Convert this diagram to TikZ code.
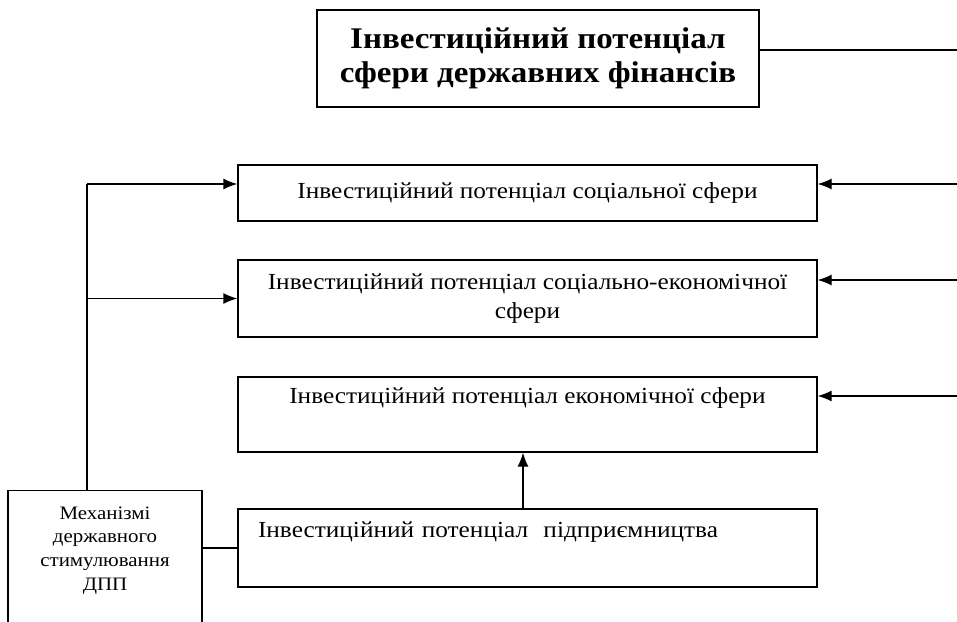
\documentclass[tikz,border=0pt]{standalone}
\usepackage{fontspec}
\setmainfont{Liberation Serif}[FakeStretch=1.1]
\usepackage{tikz}
\usetikzlibrary{positioning}
\usetikzlibrary{arrows.meta}
\tikzstyle{line} = [draw, line width=1.3pt, -{Latex[length=14pt,width=11pt]}]
\tikzstyle{box} = [draw, line width=1.3pt, rectangle, inner sep=0pt, minimum width=579pt, align=center]

\begin{document}
\begin{tikzpicture}[x=1pt, y=-1pt, font=\fontsize{23}{29}\selectfont]

\useasboundingbox (0,0) rectangle (957,621);

\def\r{957}
\def\c{527.5}

\node[draw, line width=1.3pt, minimum width=442pt, minimum height=97pt, inner sep=0pt,
      align=center, font=\fontsize{30}{34}\selectfont\bfseries] (fin) at (538,58.5)
      {Інвестиційний потенціал\\сфери державних фінансів};

\node[box, minimum height=56pt] (soc) at (\c,193) {Інвестиційний потенціал соціальної сфери};
\node[box, minimum height=77pt] (soceco) at (\c,298.5) {Інвестиційний потенціал соціально-економічної\\сфери};
\node[box, minimum height=75pt] (eco) at (\c,414.5) {Інвестиційний потенціал економічної сфери\\ \strut};
\node[box, minimum height=78pt, align=left, text width=539pt, inner xsep=20pt] (ent) at (\c,548)
      {Інвестиційний потенціал~ підприємництва\\ \strut};

\node[draw, line width=1.3pt, anchor=north, minimum width=194pt, inner ysep=16pt, text depth=130pt,
      align=center, font=\fontsize{19}{23.7}\selectfont] (mech) at (105,490)
      {Механізмі\\державного\\стимулювання\\ДПП};

% right side
\coordinate (e0) at (\r,50);
\coordinate (e1) at (\r,184);
\coordinate (e2) at (\r,280);
\coordinate (e3) at (\r,396);
\draw[line width=1.3pt] (fin.east |- e0) -- (e0);
\path [line] (e1) -- (e1 -| soc.east);
\path [line] (e2) -- (e2 -| soceco.east);
\path [line] (e3) -- (e3 -| eco.east);

% left side
\coordinate (bus) at (87,184);
\draw[line width=1.3pt] (mech.north -| bus) -- (bus);
\path [line] (bus) -- (bus -| soc.west);
\path [line] (bus |- soceco.west) -- (soceco.west);
\draw[line width=1.3pt] (mech.east |- ent.west) -- (ent.west);

\coordinate (m) at (523,0);
\path [line] (ent.north -| m) -- (eco.south -| m);

\end{tikzpicture}
\end{document}
